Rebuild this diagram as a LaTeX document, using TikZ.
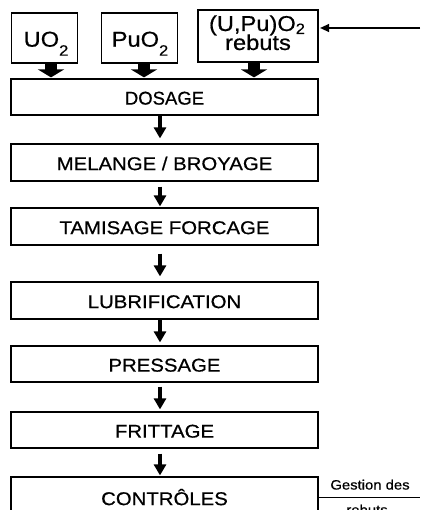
\documentclass[tikz,border=0pt]{standalone}
\usepackage{fontspec}
\setmainfont{Liberation Sans}[FakeStretch=1.1,FakeBold=0.6]
\newfontfamily\plainsans{Liberation Sans}[FakeBold=0.6]
\usetikzlibrary{arrows.meta,calc}
\begin{document}
\begin{tikzpicture}[x=1pt,y=-1pt,
  box/.style={draw, line width=1.2pt, inner sep=0pt},
  proc/.style={box, minimum width=307pt, minimum height=37pt,
    font=\fontsize{18.5}{20}\selectfont, text height=15.2pt, text depth=0pt},
  lbl/.style={anchor=base, inner sep=0pt},
  topfont/.style={font=\fontsize{21.5}{22}\selectfont},
  flow/.style={line width=3.3pt, -{Triangle[width=12pt,length=11pt]}},
  blk/.style={line width=12pt, -{Triangle[width=26pt,length=8pt]}},
  thinline/.style={line width=1.3pt},
]
\useasboundingbox (0,0) rectangle (420,510);
\clip (0,0) rectangle (420,510);

% top boxes
\node[box, minimum width=66pt, minimum height=50pt] (uo) at (44.7,38) {};
\node[box, minimum width=76pt, minimum height=50pt] (pu) at (139.5,38) {};
\node[box, minimum width=120pt, minimum height=52pt] (reb) at (258,36) {};
\node[lbl, topfont] (uoT) at (46,46.7) {UO\raisebox{-9pt}{\fontsize{15}{15}\selectfont 2}};
\node[lbl, topfont] (puT) at (140,46.7) {PuO\raisebox{-9pt}{\fontsize{15}{15}\selectfont 2}};
\node[lbl, font=\fontsize{21.5}{22}\selectfont] (rebT1) at (257,31) {(U,Pu)O\raisebox{-3pt}{\fontsize{15}{15}\selectfont 2}};
\node[lbl, font=\fontsize{21.5}{22}\selectfont] (rebT2) at (258,50) {rebuts};

% process boxes
\node[proc, minimum height=36pt, font=\plainsans\fontsize{18.5}{20}\selectfont] (dos) at (164.5,97) {DOSAGE};
\node[proc] (mel) at (164.5,162.5) {MELANGE / BROYAGE};
\node[proc] (tam) at (164.5,226.5) {TAMISAGE FORCAGE};
\node[proc] (lub) at (164.5,300.5) {LUBRIFICATION};
\node[proc, minimum height=36pt] (pre) at (164.5,364) {PRESSAGE};
\node[proc, minimum height=36pt] (fri) at (164.5,430) {FRITTAGE};
\node[proc, minimum height=41pt] (con) at (164.5,497.5) {CONTRÔLES};

% block arrows
\draw[blk] ($(uo.south)+(6.3,0)$) -- ($(uo.south|-dos.north)+(6.3,-1)$);
\draw[blk] ($(pu.south)+(4.5,0)$) -- ($(pu.south|-dos.north)+(4.5,-1)$);
\draw[blk] ($(reb.south)+(-4,0)$) -- ($(reb.south|-dos.north)+(-4,-1)$);

% flow arrows
\draw[flow] ($(dos.south)+(-4.5,0)$) -- ($(mel.north)+(-4.5,-5)$);
\draw[flow] ($(mel.south)+(-4.5,5)$) -- ($(tam.north)+(-4.5,-1)$);
\draw[flow] ($(tam.south)+(-4.5,8)$) -- ($(lub.north)+(-4.5,-5)$);
\draw[flow] ($(lub.south)+(-4.5,0)$) -- ($(pre.north)+(-4.5,-3)$);
\draw[flow] ($(pre.south)+(-4.5,4)$) -- ($(fri.north)+(-4.5,-2)$);
\draw[flow] ($(fri.south)+(-4.5,5)$) -- ($(con.north)+(-4.5,-1)$);

% recycle arrow
\coordinate (src) at (420,28);
\draw[thinline, -{Triangle[width=8pt,length=9pt]}] (src) -- ($(reb.east|-src)+(1.5,0)$);

% gestion des rebuts
\coordinate (gend) at (420,497);
\draw[thinline] (con.east) -- (con.east-|gend);
\node[lbl, font=\fontsize{13.5}{14}\selectfont] (gestA) at (370,489.5) {Gestion des};
\node[lbl, font=\fontsize{13.5}{14}\selectfont] (gestB) at (367,514.5) {rebuts};
\end{tikzpicture}
\end{document}
